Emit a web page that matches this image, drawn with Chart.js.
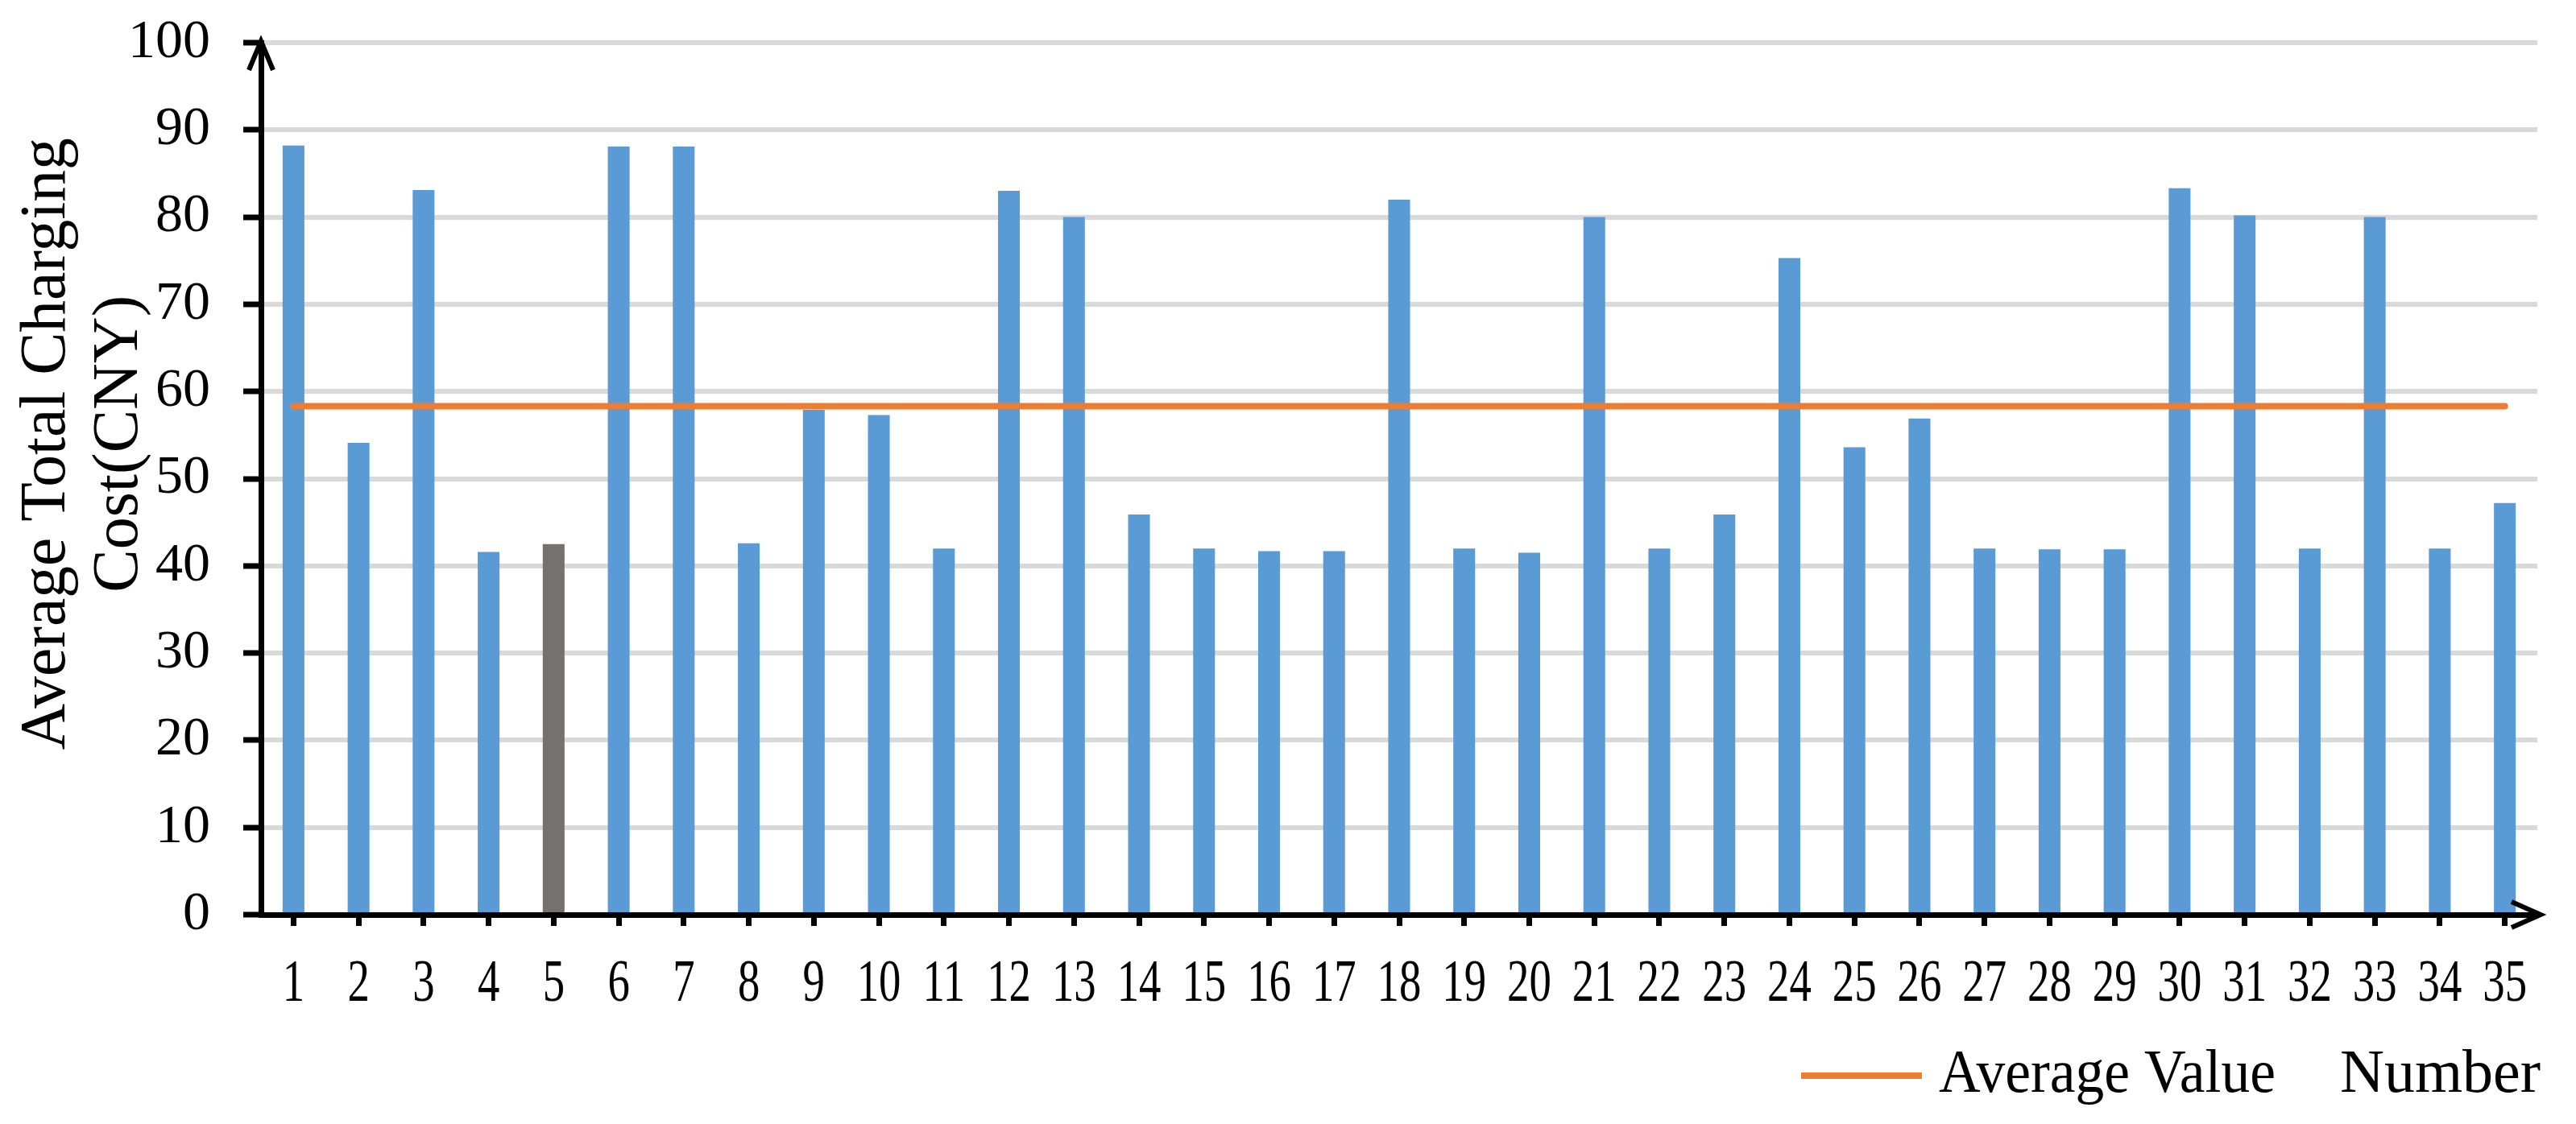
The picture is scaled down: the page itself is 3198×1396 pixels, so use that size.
<!DOCTYPE html>
<html>
<head>
<meta charset="utf-8">
<script src="https://cdn.jsdelivr.net/npm/chart.js@4.4.0/dist/chart.umd.min.js"></script>
<style>
  html, body { margin: 0; padding: 0; background: #fff; }
  #wrap { width: 3198px; height: 1396px; }
</style>
</head>
<body>
<div id="wrap"><canvas id="chart" width="3198" height="1396"></canvas></div>
<script>
/* data */
const numbers = ['1','2','3','4','5','6','7','8','9','10','11','12','13','14','15','16','17','18',
                 '19','20','21','22','23','24','25','26','27','28','29','30','31','32','33','34','35'];
const costs   = [88.2, 54.1, 83.1, 41.6, 42.5, 88.1, 88.1, 42.6, 57.9, 57.3, 42.0, 83.0, 80.0, 45.9,
                 42.0, 41.7, 41.7, 82.0, 42.0, 41.5, 80.0, 42.0, 45.9, 75.3, 53.6, 56.9, 42.0, 41.9,
                 41.9, 83.3, 80.2, 42.0, 80.0, 42.0, 47.2];
const averageValue = 58.3;
const highlighted  = '5';
const yTitleLines  = ['Average Total Charging', 'Cost(CNY)'];
const legendLabel  = 'Average Value';
const xTitle       = 'Number';

const COLORS = {
  bar:  '#5b9bd5',
  mark: '#767171',
  avg:  '#ed7d31',
  grid: '#d9d9d9',
  axis: '#000000'
};
const FONT = '"Liberation Serif", "Times New Roman", serif';

Chart.defaults.font.family = FONT;
Chart.defaults.color = '#000';

/* ── x tick labels (narrow, like the original), arrows, y title, legend row ── */
const decor = {
  id: 'decor',
  afterDraw(chart) {
    const { ctx, chartArea: a } = chart;
    const xs = chart.scales.x;
    ctx.save();
    ctx.fillStyle = '#000';

    // x tick labels, condensed
    ctx.font = '74px ' + FONT;
    ctx.textAlign = 'center';
    ctx.textBaseline = 'middle';
    numbers.forEach((n, i) => {
      const w = ctx.measureText(n).width;
      ctx.fillText(n, xs.getPixelForTick(i), 1224, w * 0.74);
    });

    ctx.strokeStyle = COLORS.axis;
    ctx.lineWidth = 6;
    ctx.lineCap = 'butt';
    ctx.lineJoin = 'miter';
    // y arrow
    ctx.beginPath();
    ctx.moveTo(a.left - 15, a.top + 34);
    ctx.lineTo(a.left, a.top - 2);
    ctx.lineTo(a.left + 15, a.top + 34);
    ctx.stroke();
    // x arrow
    ctx.beginPath();
    ctx.moveTo(a.right - 32, a.bottom - 16);
    ctx.lineTo(a.right + 4, a.bottom);
    ctx.lineTo(a.right - 32, a.bottom + 16);
    ctx.stroke();

    // y title, baselines on the right of each rotated line
    ctx.font = '80px ' + FONT;
    ctx.textBaseline = 'alphabetic';
    const cy = a.top + (a.bottom - a.top) * 0.46;
    [[80, 760], [170, 380]].forEach(([x, maxW], i) => {
      ctx.save();
      ctx.translate(x, cy);
      ctx.rotate(-Math.PI / 2);
      ctx.fillText(yTitleLines[i], 0, 0, maxW);
      ctx.restore();
    });

    // legend + x title
    const ly = 1336;
    ctx.textBaseline = 'middle';
    ctx.strokeStyle = COLORS.avg;
    ctx.lineWidth = 8;
    ctx.beginPath();
    ctx.moveTo(2236, ly);
    ctx.lineTo(2386, ly);
    ctx.stroke();
    ctx.font = '76px ' + FONT;
    ctx.textAlign = 'left';
    ctx.fillText(legendLabel, 2407, ly, 418);
    ctx.fillText(xTitle, 2905, ly);
    ctx.restore();
  }
};

new Chart(document.getElementById('chart'), {
  data: {
    labels: numbers,
    datasets: [
      {
        type: 'line',
        label: legendLabel,
        data: numbers.map(() => averageValue),
        borderColor: COLORS.avg,
        borderWidth: 8,
        borderCapStyle: 'round',
        pointRadius: 0,
        order: 0
      },
      {
        type: 'bar',
        label: 'cost',
        data: costs,
        backgroundColor: numbers.map(n => n === highlighted ? COLORS.mark : COLORS.bar),
        barPercentage: 0.335,
        categoryPercentage: 1,
        order: 1
      }
    ]
  },
  options: {
    responsive: false,
    animation: false,
    layout: { padding: { top: 53, right: 48, bottom: 0, left: 0 } },
    plugins: { legend: { display: false }, tooltip: { enabled: false } },
    scales: {
      x: {
        offset: true,
        afterFit: s => { s.height = 260; },
        grid: { offset: false, drawOnChartArea: false, drawTicks: true, tickLength: 14, tickColor: COLORS.axis, tickWidth: 7 },
        border: { color: COLORS.axis, width: 7 },
        ticks: { display: false }
      },
      y: {
        min: 0, max: 100,
        afterFit: s => { s.width = 324; s.paddingTop = 0; s.paddingBottom = 0; },
        grid: { color: COLORS.grid, lineWidth: 6, tickLength: 22, tickColor: COLORS.axis, tickWidth: 7 },
        border: { color: COLORS.axis, width: 7 },
        ticks: { stepSize: 10, font: { size: 68 }, color: '#000', padding: 41 }
      }
    }
  },
  plugins: [decor]
});
</script>
</body>
</html>
